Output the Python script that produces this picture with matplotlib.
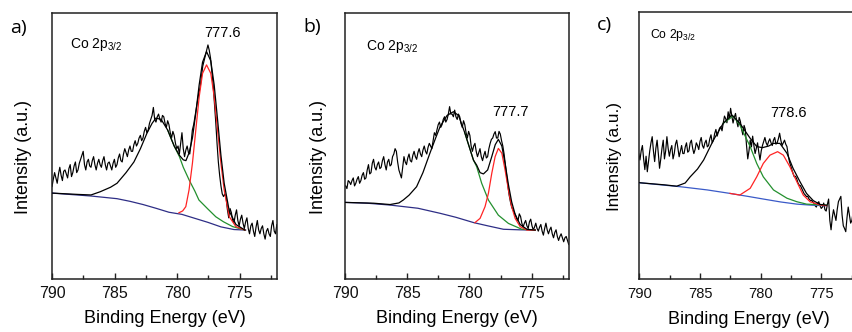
import numpy as np
import matplotlib
matplotlib.use('Agg')
import matplotlib.pyplot as plt
import matplotlib as mpl
from matplotlib.ticker import MultipleLocator

#Plot style
mpl.rcParams.update({'font.size': 11, 'font.family': 'Liberation Sans'})
mpl.rcParams['mathtext.default'] = 'regular'
mpl.rcParams['xtick.direction'] = 'in'
mpl.rcParams['xtick.major.size'] = 4
mpl.rcParams['xtick.minor.size'] = 3
mpl.rcParams['xtick.major.width'] = 1
mpl.rcParams['xtick.minor.width'] = 1
mpl.rcParams['axes.linewidth'] = 1.1
mpl.rcParams['axes.edgecolor'] = '#222222'

#-------------------------------------------
# Data (intensity in arbitrary units, 0-100 = axis height)

# raw scans: first energy and energy step of each scan [eV]
a_start, a_step = 790.21, 0.10395
b_start, b_step = 789.95, 0.10185
c_start, c_step = 790.15, 0.1009

a_raw = [35, 38, 34.7, 37.5, 40, 38, 36, 39.5, 42, 39,
         37, 40.5, 41, 39.5, 38, 41.5, 43, 38.5, 40, 42.5,
         44, 40, 41, 43.5, 45, 46.5, 48, 43, 41, 44,
         45, 42.5, 42, 44.5, 46, 43, 41, 43.5, 45, 43,
         42, 44.5, 46, 43, 41, 43.5, 44, 42.5, 41, 43.5,
         45, 42, 43, 45.5, 47, 44.5, 44, 47, 49, 47.5,
         46, 48.5, 50, 48, 48, 50.5, 52, 50, 51, 53,
         54, 52, 53, 55.5, 57, 55, 56, 58.5, 60, 61.5,
         64.5, 60, 59, 61, 62, 60, 59, 61.5, 61, 58.5,
         57, 59.5, 58, 55, 53, 55.5, 54, 51, 49, 50,
         47, 51, 55, 49, 46, 48.5, 50, 47.5, 47, 51,
         56, 58, 61, 64, 67, 70, 72, 76, 80, 82,
         84, 86, 88, 86, 83, 78, 73, 66, 59, 51,
         44, 39, 35, 32, 31, 32, 30.5, 26, 23, 26.5,
         25, 22, 21, 24, 26, 22, 20, 22.5, 24, 21,
         19, 21.5, 23, 19, 17, 20, 21, 18, 16, 19.5,
         22, 18.5, 17, 19, 20, 17, 15, 18, 19, 17,
         16, 20, 22, 18, 17, 20.5, 19]
b_raw = [35, 34, 37, 36.5, 35.5, 37, 38, 35, 36, 37.5,
         38.5, 36, 37, 39, 40, 37.5, 38, 41, 43, 39.5,
         40, 43.5, 45, 42, 41, 43, 44, 41.5, 42, 44.5,
         46, 43, 41, 44, 45, 42.5, 43, 46, 47, 49,
         48, 44, 41, 39.5, 38, 42, 46, 44, 43, 45.5,
         47, 44.5, 44, 46.5, 48, 46, 45, 47.5, 49, 47,
         46, 48.5, 50, 48, 47, 49.5, 51, 50, 49, 52,
         55, 54, 56, 58, 59, 57, 58, 60, 61, 59,
         60, 62, 64.8, 62, 62, 61, 63.5, 61, 60, 62,
         61, 58.5, 57, 59.5, 58, 55, 53, 55.5, 54, 50,
         48, 50, 51, 48, 46, 47.5, 49, 46, 44.5, 46.5,
         48, 45.5, 46, 49, 51, 52.5, 53, 54.5, 55.4, 53,
         53, 55.5, 54.5, 52, 50, 47, 43, 39, 35, 31.5,
         29, 27, 26, 25, 24, 22.5, 22, 24.5, 23.5, 21,
         19.5, 21, 22, 20, 19, 21.5, 22.5, 20, 18.5, 19.5,
         21, 19, 18, 19.5, 20.5, 18, 16.5, 19, 21, 18.5,
         17, 18.5, 19.5, 17, 15.5, 17.5, 18.5, 16, 14.5, 16,
         17, 15.5, 14, 15.5, 16, 14.5, 13]
c_raw = [44, 47, 44.6, 48, 50, 45, 41, 46, 40.2, 44,
         48, 51, 53.3, 48, 44, 49, 52, 47, 41.5, 45,
         49, 52, 45, 48, 53.3, 49, 46, 48.5, 50, 45,
         47, 50.5, 52, 49, 45.8, 48, 50, 47, 47, 49.5,
         51, 47.5, 48, 51, 52, 49, 47, 48.5, 51, 50,
         48.5, 51.5, 53, 50, 49, 51, 52, 49.5, 50, 52.5,
         54, 51, 52, 54.5, 56, 53.5, 55, 56.5, 57, 55.5,
         58.4, 61, 60, 58.5, 62.6, 60, 63.9, 61, 58.4, 60.5,
         62, 59, 57, 60.5, 59, 56, 54, 57.5, 56, 50,
         45, 48, 52, 49.5, 53.5, 50, 47, 49, 51, 47.5,
         44.6, 48, 50, 51.5, 53, 51, 50, 51.5, 52.5, 51,
         50, 52, 53, 50.5, 51, 52.5, 54.6, 52, 50, 51,
         52, 50.5, 49.6, 46.5, 44, 42.5, 41, 39.5, 38.3, 38.5,
         37.5, 36, 35.2, 35, 34, 33, 32, 31.5, 30.9, 31,
         30, 29.5, 29.5, 29, 28.5, 27.5, 27, 28.5, 29, 27.5,
         26.5, 27, 28.5, 26, 25.5, 28, 30, 22, 18.5, 23,
         26, 24, 22, 26, 29, 30, 31, 24, 20, 19,
         17.8, 23, 27, 24, 21, 22, 25]

# a) fitted curves
a_bg_E = [790, 786.88, 784.80, 783.76, 782.72, 781.69, 780.65, 779.61, 778.57, 777.53, 776.49, 775.45, 774.51]
a_bg_I = [32.3, 31.2, 30.2, 29.2, 28.0, 26.6, 25.1, 24.3, 22.8, 21.3, 19.6, 18.6, 18.4]
a_env_E = [790, 787.92, 786.88, 786.15, 785.32, 784.80, 784.08, 783.45, 782.93, 782.41, 782.00, 781.69,
           781.27, 780.75, 780.23, 779.81, 779.50, 779.29, 779.03, 778.77, 778.51, 778.23, 777.96,
           777.64, 777.30, 777.03, 776.76, 776.49, 776.23, 775.82, 775.29, 774.57]
a_env_I = [32.3, 31.8, 31.6, 32.8, 34.5, 36, 40, 44, 49, 54.8, 58.5, 60.5,
           60, 56, 50, 46.5, 44.8, 44.5, 47.5, 53, 62, 73, 81.5,
           85.5, 82, 73, 60, 46.5, 36, 25.5, 20.5, 18.4]
a_g_E = [780.75, 780.23, 779.81, 779.50, 779.03, 778.57, 778.25, 777.53, 776.90, 776.28, 775.55, 774.57]
a_g_I = [56, 50, 46, 42, 37.2, 33, 29.7, 26.3, 23.4, 21.5, 19.7, 18.4]
a_r_E = [779.85, 779.55, 779.30, 779.04, 778.77, 778.50, 778.23, 777.96, 777.64, 777.30, 777.03, 776.76,
         776.49, 776.23, 775.82, 775.29, 774.57]
a_r_I = [24.9, 25.6, 27.2, 33.5, 43.5, 56, 68.5, 77.3, 80.5, 77.3, 68.5, 56, 43.5, 33.5, 23.4, 19.7, 18.4]

# b) fitted curves
b_bg_E = [790, 788.22, 786.38, 784.14, 782.36, 781.09, 779.66, 778.54, 777.27, 776.00, 774.72]
b_bg_I = [28.8, 28.5, 27.8, 26.6, 24.7, 23.2, 21.2, 20.0, 18.7, 18.5, 18.4]
b_env_E = [790, 787.71, 786.38, 785.67, 785.32, 784.86, 784.25, 783.74, 783.18, 782.72, 782.36, 781.80,
           781.29, 780.88, 780.38, 779.68, 779.42, 779.15, 778.88, 778.54, 778.21, 777.93, 777.68,
           777.40, 777.14, 776.87, 776.61, 776.33, 775.93, 775.38, 774.72]
b_env_I = [28.8, 28.5, 28.0, 28.6, 29.7, 31.5, 34.7, 40, 47.3, 53, 57.3, 61.5,
           62.9, 61.5, 55, 44.7, 42.8, 40, 39.5, 41, 46, 50.5, 52.5,
           50, 43.5, 35.5, 29, 24.3, 20.5, 18.7, 18.4]
b_g_E = [780.38, 779.68, 779.42, 779.02, 778.48, 777.68, 776.87, 775.79, 774.72]
b_g_I = [55, 44.7, 42.2, 36, 29.7, 24, 20.9, 18.7, 18.4]
b_r_E = [779.56, 779.15, 778.75, 778.48, 778.21, 777.94, 777.68, 777.40, 777.14, 776.87, 776.61,
         776.33, 775.93, 775.38, 774.72]
b_r_I = [21.2, 22.8, 27.2, 32.2, 39.7, 46, 49.1, 47.3, 41, 33.5, 27.2, 22.8, 19.7, 18.4, 18.4]

# c) fitted curves
c_bg_E = [790, 788.44, 786.62, 784.40, 782.53, 781.07, 779.79, 778.35, 777.03, 775.82, 774.57]
c_bg_I = [36.1, 35.4, 34.6, 33.4, 32.1, 31.0, 30.0, 28.9, 28.1, 27.7, 27.5]
c_env_E = [790, 787.93, 786.92, 786.22, 785.81, 785.21, 784.70, 783.90, 783.09, 782.38, 781.72, 780.87,
           780.33, 779.86, 779.35, 778.95, 778.42, 777.84, 777.34, 776.77, 776.23, 775.67, 775.12, 774.57]
c_env_I = [36.1, 35.3, 34.8, 36, 38.3, 41.2, 44.6, 52, 58.3, 61.4, 58.3, 52.7,
           49.6, 49.2, 49.8, 50.8, 50.8, 47.1, 41.5, 36.5, 32.1, 29.4, 28, 27.7]
c_g_E = [783.09, 782.28, 781.72, 780.87, 780.33,
         779.79, 778.95, 777.84, 777.03, 776.23, 774.57]
c_g_I = [58.3, 61, 57.7, 49.6, 43.3, 38.3, 33.4, 30.3, 29.0, 28.1, 27.7]
c_r_E = [782.53, 781.72, 780.87, 780.33, 779.79, 779.24, 778.61, 778.14, 777.60, 777.03, 776.50,
         775.94, 775.12, 774.57]
c_r_I = [32.1, 31.5, 34, 38.3, 43.3, 46.4, 47.7, 46.4, 42.1, 36.5, 31.5, 29, 27.8, 27.5]

peak_labels = ['777.6', '777.7', '778.6']
panel_tags = ['a)', 'b)', 'c)']

#-------------------------------------------

fig = plt.figure(figsize=(8.53, 3.32), dpi=100)

# axes boxes in figure fraction (panel c runs past the right edge of the picture)
boxes = [[0.0610, 0.1596, 0.2638, 0.8012],
         [0.4045, 0.1596, 0.2626, 0.8012],
         [0.7495, 0.1587, 0.2562, 0.8060]]

panels = [
    (a_start, a_step, a_raw, a_bg_E, a_bg_I, a_env_E, a_env_I, a_g_E, a_g_I, a_r_E, a_r_I, '#2e2e86'),
    (b_start, b_step, b_raw, b_bg_E, b_bg_I, b_env_E, b_env_I, b_g_E, b_g_I, b_r_E, b_r_I, '#2e2e86'),
    (c_start, c_step, c_raw, c_bg_E, c_bg_I, c_env_E, c_env_I, c_g_E, c_g_I, c_r_E, c_r_I, '#3a5ac8'),
]

# text placement (axes fraction)
co_pos = [(0.080, 0.868), (0.094, 0.861), (0.049, 0.900)]
pk_pos = [(0.676, 0.909), (0.658, 0.614), (0.598, 0.608)]
tag_pos = [(0.0117, 0.9015), (0.3556, 0.9045), (0.6995, 0.9096)]
ylab_x = [-0.089, -0.082, -0.081]

for i, (start, step, raw, bgE, bgI, envE, envI, gE, gI, rE, rI, bgcol) in enumerate(panels):
    ax = fig.add_axes(boxes[i])
    E = start - step*np.arange(len(raw))
    ax.plot(E, raw, color='k', lw=0.85, zorder=2)
    ax.plot(bgE, bgI, color=bgcol, lw=0.9, zorder=3)
    ax.plot(gE, gI, color='#23902e', lw=0.9, zorder=4)
    ax.plot(rE, rI, color='#ff2424', lw=0.9, zorder=5)
    ax.plot(envE, envI, color='k', lw=0.9, zorder=6)

    ax.set_xlim(790, 772)
    ax.set_ylim(0, 100)
    ax.set_yticks([])
    ax.xaxis.set_major_locator(MultipleLocator(5))
    ax.xaxis.set_minor_locator(MultipleLocator(2.5))
    small = (i == 2)
    ax.tick_params(axis='x', which='both', labelsize=10.6 if small else 11.5,
                   pad=5.5 if small else 4.8, colors='#222222', labelcolor='#111111')

    ax.set_xlabel('Binding Energy (eV)', fontsize=13)
    ax.xaxis.set_label_coords(0.5, -0.118)
    ax.set_ylabel('Intensity (a.u.)', fontsize=12.3 if small else 13)
    ax.yaxis.set_label_coords(ylab_x[i], 0.459)

    ax.text(co_pos[i][0], co_pos[i][1], r'Co 2p$_{3/2}$', transform=ax.transAxes,
            fontsize=8.8 if small else 10, ha='left', va='baseline')
    ax.text(pk_pos[i][0], pk_pos[i][1], peak_labels[i], transform=ax.transAxes,
            fontsize=10.5, ha='left', va='baseline')
    fig.text(tag_pos[i][0], tag_pos[i][1], panel_tags[i], fontsize=14,
             family='Open Sans', ha='left', va='baseline')

plt.savefig('out.png', dpi=100)
